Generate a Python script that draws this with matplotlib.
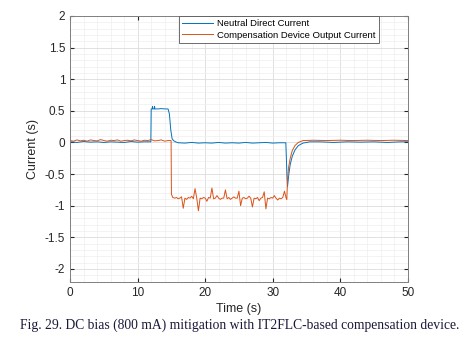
import matplotlib
matplotlib.use("Agg")
import matplotlib.pyplot as plt
from matplotlib.ticker import MultipleLocator

plt.rcParams['font.family'] = ['Liberation Sans', 'DejaVu Sans']
plt.rcParams['axes.unicode_minus'] = False

# Neutral direct current (A)
blue_time = [0, 1, 2, 3, 4, 5, 6, 7, 8, 9, 10, 11, 11.95,
             12.0, 12.15, 12.2, 12.25, 12.45, 12.5, 12.55, 13.0, 13.5, 14.0, 14.5,
             14.7, 14.9, 15.1, 15.3, 15.6,
             16, 17, 18, 19, 20, 21, 22, 23, 24, 25, 26, 27, 28, 29, 30, 31, 31.95,
             32.05, 32.12, 32.2, 32.4, 32.6, 32.9, 33.3, 33.8, 34.5, 35.5,
             37, 39, 41, 43, 45, 47, 49, 50]
blue_current = [0.01, 0.0, 0.015, 0.005, 0.01, 0.0, 0.01, 0.005, 0.0, 0.015, 0.005, 0.01, 0.01,
                0.53, 0.53, 0.57, 0.53, 0.53, 0.57, 0.53, 0.53, 0.535, 0.53, 0.53,
                0.45, 0.2, 0.06, 0.03, 0.01,
                -0.005, -0.01, 0.0, -0.01, -0.005, -0.01, 0.0, -0.01, -0.005, -0.01, 0.0, -0.01, -0.005, 0.0, -0.01, -0.005, -0.005,
                -0.3, -0.55, -0.7, -0.5, -0.35, -0.22, -0.12, -0.05, -0.01, 0.01,
                0.01, 0.0, 0.01, 0.005, 0.01, 0.0, 0.01, 0.01]

# Compensation device output current (A)
orange_time = [0, 0.5, 1.0, 1.5, 2.0, 2.5, 3.0, 3.5, 4.0, 4.5,
               5.0, 5.5, 6.0, 6.5, 7.0, 7.5, 8.0, 8.5, 9.0, 9.5,
               10.0, 10.5, 11.0, 11.5, 12.0, 12.5, 13.0, 13.5, 14.0, 14.5, 14.95,
               15.0, 15.2,
               15.5, 15.75, 16.0, 16.25, 16.5, 16.75, 17.0, 17.25, 17.5, 17.75,
               18.0, 18.25, 18.5, 18.75, 19.0, 19.25, 19.5, 19.75, 20.0, 20.25,
               20.5, 20.75, 21.0, 21.25, 21.5, 21.75, 22.0, 22.25, 22.5, 22.75,
               23.0, 23.25, 23.5, 23.75, 24.0, 24.25, 24.5, 24.75, 25.0, 25.25,
               25.5, 25.75, 26.0, 26.25, 26.5, 26.75, 27.0, 27.25, 27.5, 27.75,
               28.0, 28.25, 28.5, 28.75, 29.0, 29.25, 29.5, 29.75, 30.0, 30.25,
               30.5, 30.75, 31.0, 31.25, 31.5, 31.75, 32.0,
               32.1, 32.2, 32.35, 32.6, 32.9, 33.3, 33.8, 34.5,
               36, 38, 40, 42, 44, 46, 48, 50]
orange_current = [0.03, 0.02, 0.04, 0.025, 0.035, 0.02, 0.04, 0.03, 0.025, 0.045,
                  0.03, 0.02, 0.035, 0.03, 0.04, 0.02, 0.03, 0.035, 0.025, 0.04,
                  0.03, 0.02, 0.035, 0.03, 0.045, 0.025, 0.03, 0.04, 0.02, 0.03, 0.03,
                  -0.82, -0.87,
                  -0.88, -0.87, -0.89, -0.88, -0.86, -1.04, -0.88, -0.9, -0.87, -0.88,
                  -0.85, -0.89, -0.73, -0.88, -1.08, -0.88, -0.89, -0.87, -0.88, -0.93,
                  -0.87, -0.88, -0.72, -0.89, -0.88, -0.84, -0.88, -0.9, -0.88, -0.88,
                  -0.75, -0.89, -0.87, -0.9, -0.88, -0.86, -0.88, -0.88, -0.77, -1.0,
                  -0.88, -0.87, -0.89, -0.88, -0.85, -0.88, -1.02, -0.88, -0.89, -0.87,
                  -0.92, -0.88, -0.87, -0.78, -1.05, -0.88, -0.89, -0.87, -0.88, -0.84,
                  -0.88, -0.91, -0.88, -0.89, -0.87, -0.77, -0.88,
                  -0.9, -0.6, -0.4, -0.25, -0.13, -0.05, 0.0, 0.03,
                  0.035, 0.03, 0.035, 0.03, 0.035, 0.03, 0.035, 0.03]

fig = plt.figure(figsize=(4.68, 3.46), dpi=100)
ax = fig.add_axes([0.150, 0.186, 0.721, 0.768])

ax.plot(blue_time, blue_current, color='#0072BD', linewidth=0.7, label='Neutral Direct Current')
ax.plot(orange_time, orange_current, color='#D95319', linewidth=0.7, label='Compensation Device Output Current')

ax.set_xlim(0, 50)
ax.set_ylim(-2.2, 2)
ax.set_xticks([0, 10, 20, 30, 40, 50])
ax.set_yticks([-2, -1.5, -1, -0.5, 0, 0.5, 1, 1.5, 2])
ax.set_yticklabels(['-2', '-1.5', '-1', '-0.5', '0', '0.5', '1', '1.5', '2'])
ax.xaxis.set_minor_locator(MultipleLocator(2))
ax.yaxis.set_minor_locator(MultipleLocator(0.1))
ax.grid(True, which='major', color='#dcdcdc', linewidth=0.6)
ax.grid(True, which='minor', color='#eeeeee', linewidth=0.5)
ax.set_axisbelow(True)
ax.tick_params(which='both', direction='in', top=True, right=True, colors='#262626', labelsize=8.5)
ax.tick_params(which='major', length=3)
ax.tick_params(which='minor', length=0)
for s in ax.spines.values():
    s.set_color('#7f7f7f')
    s.set_linewidth(0.7)

ax.set_xlabel('Time (s)', fontsize=9, color='#262626', labelpad=3)
ax.set_ylabel('Current (s)', fontsize=9, color='#262626', labelpad=4)

leg = ax.legend(loc='upper right', bbox_to_anchor=(0.915, 1.0), borderaxespad=0,
                fontsize=6.8, handlelength=3.3, fancybox=False, framealpha=1,
                edgecolor='#555555', borderpad=0.35, labelspacing=0.25, handletextpad=0.4)
leg.get_frame().set_linewidth(0.6)

fig.text(0.513, 0.06, 'Fig. 29. DC bias (800 mA) mitigation with IT2FLC-based compensation device.',
         ha='center', va='center', fontsize=9.8, family='Liberation Serif', color='#1a1a3a')

fig.savefig('out.png', dpi=100)
